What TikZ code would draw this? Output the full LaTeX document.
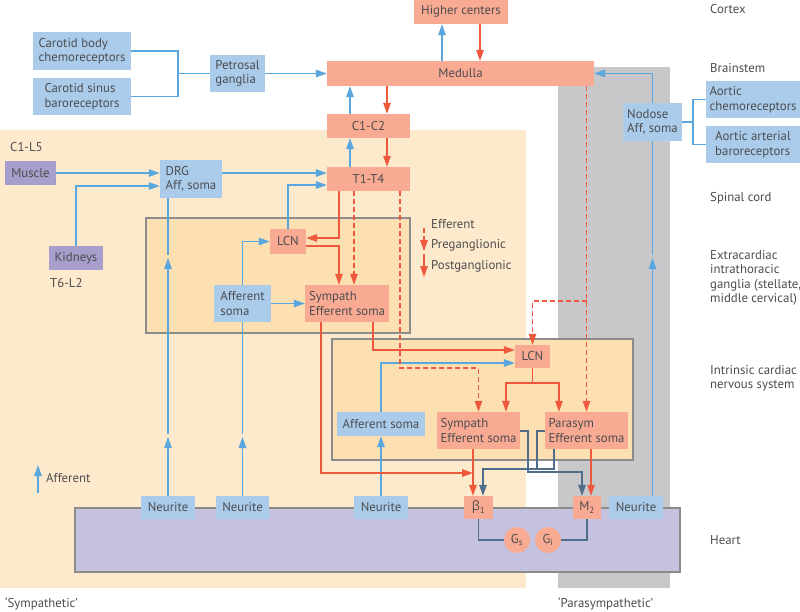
\documentclass[tikz,border=0pt]{standalone}
\usepackage{fontspec}
\setmainfont{PT Sans}
\newfontfamily\grk{Open Sans}
\usetikzlibrary{arrows.meta}
\definecolor{txt}{RGB}{77,77,79}
\definecolor{bfill}{RGB}{171,203,235}
\definecolor{rfill}{RGB}{248,170,147}
\definecolor{pfill}{RGB}{168,158,204}
\definecolor{heartc}{RGB}{197,194,223}
\definecolor{symbg}{RGB}{253,234,204}
\definecolor{inbg}{RGB}{253,224,178}
\definecolor{parbg}{RGB}{200,200,202}
\definecolor{bord}{RGB}{140,140,140}
\definecolor{bline}{RGB}{90,166,222}
\definecolor{rline}{RGB}{238,88,60}
\definecolor{dline}{RGB}{80,110,140}
\begin{document}
\begin{tikzpicture}[x=1pt,y=-1pt,
  font=\fontsize{12.8}{14.5}\selectfont, text=txt,
  abox/.style={inner sep=0pt, draw=none, align=left},
  bb/.style={abox, fill=bfill},
  rb/.style={abox, fill=rfill},
  pb/.style={abox, fill=pfill},
  sz/.style 2 args={minimum width=#1, minimum height=#2},
  lab/.style={inner sep=0pt, anchor=west, align=left},
  bl/.style={draw=bline, line width=1.3pt},
  rl/.style={draw=rline, line width=1.3pt},
  dl/.style={draw=dline, line width=1.3pt},
  ds/.style={dash pattern=on 5pt off 3pt},
  arr/.style={-{Triangle[length=11pt,width=7.5pt]}},
  region/.style={draw=bord, line width=1.3pt},
]
\useasboundingbox (0,0) rectangle (800,611);
\fill[white] (0,0) rectangle (800,611);
% regions
\fill[symbg] (0,130) rectangle (526,588);
\fill[parbg] (558,67) rectangle (670,588);
\draw[region, fill=inbg] (146,218) rectangle (410,333);
\draw[region, fill=inbg] (332,339) rectangle (633,460);
\draw[region, fill=heartc] (75,508) rectangle (680,572);

% helper coordinates
\foreach \v in {442,480,350,387,339,354,400,373,321,473,483,506,559,591,582,528,537,554}
  {\coordinate (X\v) at (\v,0);}
\foreach \v in {173,185,186,238,246,301,350,363,368,383,431,469,472,473,437,434,258,255}
  {\coordinate (Y\v) at (0,\v);}

% nodes
\node[rb, sz={94pt}{25pt}] (higher) at (461,11.5) {Higher centers};
\node[rb, sz={267pt}{25pt}] (medulla) at (460.5,73.5) {Medulla};
\node[rb, sz={83pt}{24pt}] (c1c2) at (368.5,126) {C1-C2};
\node[rb, sz={83pt}{24pt}] (t1t4) at (368.5,179) {T1-T4};
\node[bb, sz={98pt}{38pt}] (cbody) at (82,51) {Carotid body\\chemoreceptors};
\node[bb, sz={98pt}{37pt}] (csinus) at (82,96.5) {Carotid sinus\\baroreceptors};
\node[bb, sz={55pt}{37pt}] (petro) at (237.5,73.5) {Petrosal\\ganglia};
\node[pb, sz={51pt}{24pt}] (muscle) at (30.5,173) {Muscle};
\node[pb, sz={54pt}{24pt}] (kidneys) at (76,258) {Kidneys};
\node[bb, sz={62pt}{38pt}] (drg) at (191,179) {DRG\\Aff, soma};
\node[rb, sz={36pt}{25pt}] (lcnA) at (288,241.5) {LCN};
\node[bb, sz={57pt}{37pt}] (affA) at (242.5,303.5) {Afferent\\soma};
\node[rb, sz={84pt}{37pt}] (sympA) at (347,303.5) {Sympath\\Efferent soma};
\node[rb, sz={35pt}{23pt}] (lcnB) at (532.5,356.5) {LCN};
\node[bb, sz={88pt}{24pt}] (affB) at (381,424) {Afferent soma};
\node[rb, sz={83pt}{37pt}] (sympB) at (478.5,430.5) {Sympath\\Efferent soma};
\node[rb, sz={83pt}{37pt}] (paraB) at (586.5,430.5) {Parasym\\Efferent soma};
\node[bb, sz={54pt}{23pt}] (n1) at (168,507.5) {Neurite};
\node[bb, sz={53pt}{23pt}] (n2) at (242.5,507.5) {Neurite};
\node[bb, sz={54pt}{23pt}] (n3) at (381,507.5) {Neurite};
\node[bb, sz={54pt}{23pt}] (n4) at (636,507.5) {Neurite};
\node[rb, sz={29pt}{23pt}] (beta) at (478.5,507.5) {{\grk β}\textsubscript{1}};
\node[rb, sz={28pt}{23pt}] (mtwo) at (587,507.5) {M\textsubscript{2}};
\node[rb, circle, minimum size=26pt] (gs) at (517,540) {G\textsubscript{s}};
\node[rb, circle, minimum size=26pt] (gi) at (548,540) {G\textsubscript{i}};
\node[bb, sz={59pt}{38pt}] (nodose) at (652.5,122) {Nodose\\Aff, soma};
\node[bb, sz={94pt}{37pt}] (achemo) at (753,99.5) {Aortic\\chemoreceptors};
\node[bb, sz={94pt}{37pt}] (abaro) at (753,144.5) {Aortic arterial\\baroreceptors};

% labels
\node[lab] (lcortex) at (710,9) {Cortex};
\node[lab] (lbrain) at (710,68) {Brainstem};
\node[lab] (lspinal) at (710,198) {Spinal cord};
\node[lab] (lextra) at (710,278) {Extracardiac\\intrathoracic\\ganglia (stellate,\\middle cervical)};
\node[lab] (lintr) at (710,378.5) {Intrinsic cardiac\\nervous system};
\node[lab] (lheart) at (710,540) {Heart};
\node[lab] (lc1l5) at (10,147) {C1-L5};
\node[lab] (lt6l2) at (50,283) {T6-L2};
\node[lab] (lsym) at (5,604) {‘Sympathetic’};
\node[lab] (lpar) at (558,604) {‘Parasympathetic’};
\node[lab] (laff) at (46,478) {Afferent};
\node[lab] (leff) at (431,224) {Efferent};
\node[lab] (lpre) at (431,245) {Preganglionic};
\node[lab] (lpost) at (431,266) {Postganglionic};
\coordinate (la1) at (38,493);
\coordinate (la2) at (38,465);
\coordinate (le1) at (424,228);
\coordinate (le2) at (424,251);
\coordinate (le3) at (424,254);
\coordinate (le4) at (424,277);

% blue connectors
\draw[bl,arr] (X442 |- medulla.north) -- (X442 |- higher.south);
\draw[bl,arr] (X350 |- c1c2.north) -- (X350 |- medulla.south);
\draw[bl,arr] (X350 |- t1t4.north) -- (X350 |- c1c2.south);
\coordinate (bk) at (178,73.5);
\draw[bl] (cbody.east) -| (bk) |- (csinus.east);
\draw[bl] (bk) -- (petro.west);
\draw[bl,arr] (petro.east) -- (petro.east -| medulla.west);
\draw[bl,arr] (muscle.east) -- (muscle.east -| drg.west);
\draw[bl,arr] (kidneys.north) |- (drg.west |- Y186);
\draw[bl,arr] (drg.east |- Y173) -- (t1t4.west |- Y173);
\draw[bl,arr] (lcnA.north) |- (t1t4.west |- Y185);
\draw[bl,arr] (n1.north) -- (n1.north |- Y437);
\draw[bl,arr] (n1.north |- Y434) -- (n1.north |- Y258);
\draw[bl] (n1.north |- Y255) -- (n1.north |- drg.south);
\draw[bl,arr] (n2.north) -- (n2.north |- Y437);
\draw[bl] (n2.north |- Y434) -- (affA.south);
\draw[bl,arr] (affA.north) |- (lcnA.west);
\draw[bl,arr] (affA.east) -- (sympA.west);
\draw[bl,arr] (n3.north) -- (affB.south);
\draw[bl,arr] (affB.north) |- (lcnB.west |- Y363);
\draw[bl,arr] (nodose.south |- n4.north) -- (nodose.south |- Y258);
\draw[bl] (nodose.south |- Y255) -- (nodose.south);
\draw[bl,arr] (nodose.north) |- (medulla.east);
\coordinate (bk2) at (693,122);
\draw[bl] (achemo.west) -| (bk2) |- (abaro.west);
\draw[bl] (bk2) -- (nodose.east);
\draw[bl,arr] (la1) -- (la2);

% red connectors
\draw[rl,arr] (X480 |- higher.south) -- (X480 |- medulla.north);
\draw[rl,arr] (X387 |- medulla.south) -- (X387 |- c1c2.north);
\draw[rl,arr] (X387 |- c1c2.south) -- (X387 |- t1t4.north);
\draw[rl,arr] (X339 |- t1t4.south) |- (lcnA.east |- Y238);
\draw[rl,arr] (lcnA.east |- Y246) -| (X339 |- sympA.north);
\draw[rl,arr] (X373 |- sympA.south) |- (lcnB.west |- Y350);
\draw[rl,arr] (X321 |- sympA.south) |- (X473 |- Y473);
\draw[rl] (lcnB.south) -- (lcnB.south |- Y383);
\draw[rl,arr] (lcnB.south |- Y383) -| (X506 |- sympB.north);
\draw[rl,arr] (lcnB.south |- Y383) -| (X559 |- paraB.north);
\draw[rl,arr] (X473 |- sympB.south) -- (X473 |- beta.north);
\draw[rl,arr] (X591 |- paraB.south) -- (X591 |- mtwo.north);
\draw[rl,arr] (le3) -- (le4);
% dashed red
\draw[rl,ds,arr] (X354 |- t1t4.south) -- (X354 |- sympA.north);
\draw[rl,ds,arr] (X400 |- t1t4.south) |- (sympB.north |- Y368) -- (sympB.north);
\draw[rl,ds,arr] (paraB.north |- medulla.south) -- (paraB.north);
\draw[rl,ds,arr] (paraB.north |- Y301) -| (lcnB.north);
\draw[rl,ds,arr] (le1) -- (le2);

% dark connectors
\draw[dl,arr] (sympB.east |- Y431) -| (X528 |- Y472) -| (X582 |- mtwo.north);
\draw[dl] (paraB.west |- Y431) -| (X537 |- Y469);
\draw[dl,arr] (X554 |- paraB.south) |- (X483 |- Y469) -- (X483 |- beta.north);
\draw[dl] (beta.south) |- (gs.west);
\draw[dl] (gi.east) -| (mtwo.south);
\end{tikzpicture}
\end{document}
